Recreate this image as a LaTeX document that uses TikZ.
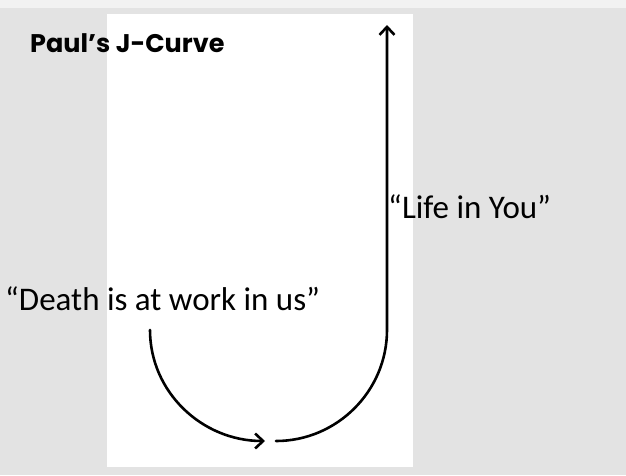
\documentclass[tikz,border=0pt]{standalone}
\usepackage{fontspec}
\setmainfont{Carlito}
\newfontfamily\titlefont{Poppins}
\usetikzlibrary{arrows.meta}
\definecolor{paper}{HTML}{E3E3E3}
\definecolor{papertop}{HTML}{F2F2F2}
\begin{document}
\begin{tikzpicture}[x=1pt,y=-1pt,
  curvearrow/.style={line width=2.6pt,line cap=round,
    -{Straight Barb[length=8pt,width=15pt,line width=2.6pt]}},
  quote/.style={anchor=base west,inner sep=0pt,font=\fontsize{33}{33}\selectfont},
  titletext/.style={anchor=base west,inner sep=0pt,font=\titlefont\bfseries\fontsize{25.5}{25.5}\selectfont}]
\useasboundingbox (0,0) rectangle (626,475);
\fill[paper] (0,0) rectangle (626,475);
\fill[papertop] (0,0) rectangle (626,8);
\fill[white] (107,14) rectangle (413,467);
\node[titletext] (title) at (30,52) {Paul’s J-Curve};
\node[quote] (death) at (5,310) {“Death is at work in us”};
\node[quote] (life) at (388,218) {“Life in You”};
\coordinate (s1) at (150,330);
\coordinate (e1) at (265,441);
\coordinate (s2) at (276,441);
\coordinate (m2) at (387,330);
\coordinate (t2) at (387,25);
\draw[curvearrow] (s1) .. controls (150,392) and (202,441) .. (e1);
\draw[curvearrow] (s2) .. controls (337,441) and (387,391) .. (m2) -- (t2);
\end{tikzpicture}
\end{document}
